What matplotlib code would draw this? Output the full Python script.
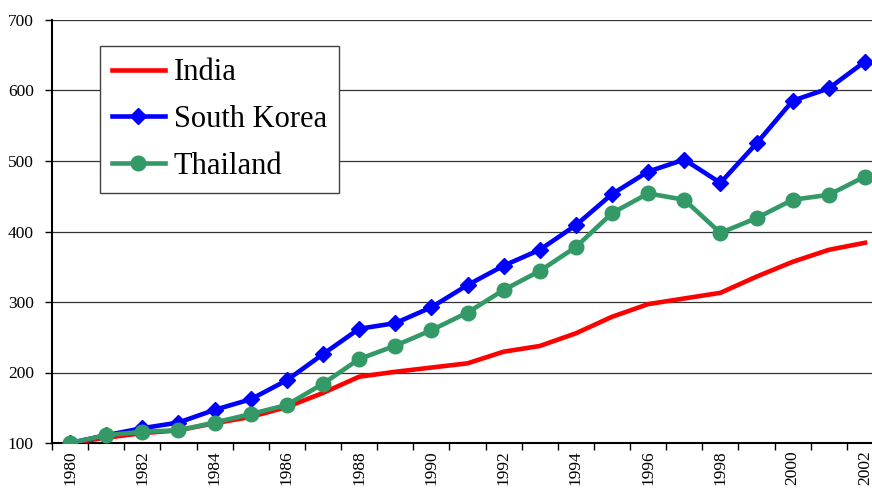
import matplotlib
matplotlib.use("Agg")
import matplotlib.pyplot as plt
import numpy as np

years = list(range(1980, 2003))
india = [100, 107.5, 114, 118, 128, 137, 151, 171, 194, 201, 207, 213, 229.5, 237.6,
         255.6, 279, 297, 305, 313, 336, 357, 374, 384]
korea = [100, 111, 121, 129, 147, 162, 189, 226, 262, 270, 292.5, 324, 351.5, 374,
         409, 453, 485, 502, 469, 525, 585.5, 603, 641]
thailand = [100, 111, 116, 118, 129, 141, 154, 184, 219, 238, 260, 285, 317, 344,
            378, 426, 454, 445, 398, 419, 445, 452, 478]
series_names = ["India", "South Korea", "Thailand"]
yticks = [100, 200, 300, 400, 500, 600, 700]

plt.rcParams['font.family'] = ['Liberation Serif', 'DejaVu Serif']

fig = plt.figure(figsize=(8.72, 4.93), dpi=100)
ax = fig.add_axes([52/872, 1-443/493, 831/872, 423/493])

x = np.arange(len(years))
ax.plot(x, india, color='#FF0000', lw=3.3, label=series_names[0], zorder=3)
ax.plot(x, korea, color='#0000FF', lw=3.3, marker='D', ms=8.5, label=series_names[1], zorder=4)
ax.plot(x, thailand, color='#339966', lw=3.3, marker='o', ms=10.5, label=series_names[2], zorder=5)

ax.set_xlim(-0.5, len(years) - 0.5)
ax.set_ylim(100, 700)
ax.set_yticks(yticks)
ax.set_yticklabels([str(v) for v in yticks], fontsize=12.5)
for v in yticks[1:]:
    ax.axhline(v, color='#333333', lw=0.9, zorder=1)

ax.set_xticks(np.arange(-0.5, len(years), 1.0))
ax.set_xticklabels([])
ax.set_xticks(x[::2], minor=True)
ax.set_xticklabels([str(y) for y in years[::2]], minor=True, rotation=90, fontsize=12.5)
ax.tick_params(axis='x', which='major', direction='out', length=5, width=1)
ax.tick_params(axis='x', which='minor', length=0, pad=5)
ax.tick_params(axis='y', direction='out', length=5, width=1, pad=8)

for s in ['top', 'right']:
    ax.spines[s].set_visible(False)
ax.spines['left'].set_linewidth(1.5)
ax.spines['bottom'].set_linewidth(1.5)

leg = ax.legend(loc='upper left', bbox_to_anchor=(99.5/872, 1-46/493), bbox_transform=fig.transFigure,
                fontsize=22, frameon=True, fancybox=False, edgecolor='#404040', framealpha=1,
                handlelength=1.75, handletextpad=0.28, borderpad=0.4, labelspacing=0.58,
                borderaxespad=0)
leg.get_frame().set_linewidth(1.0)

fig.savefig("out.png", dpi=100)
